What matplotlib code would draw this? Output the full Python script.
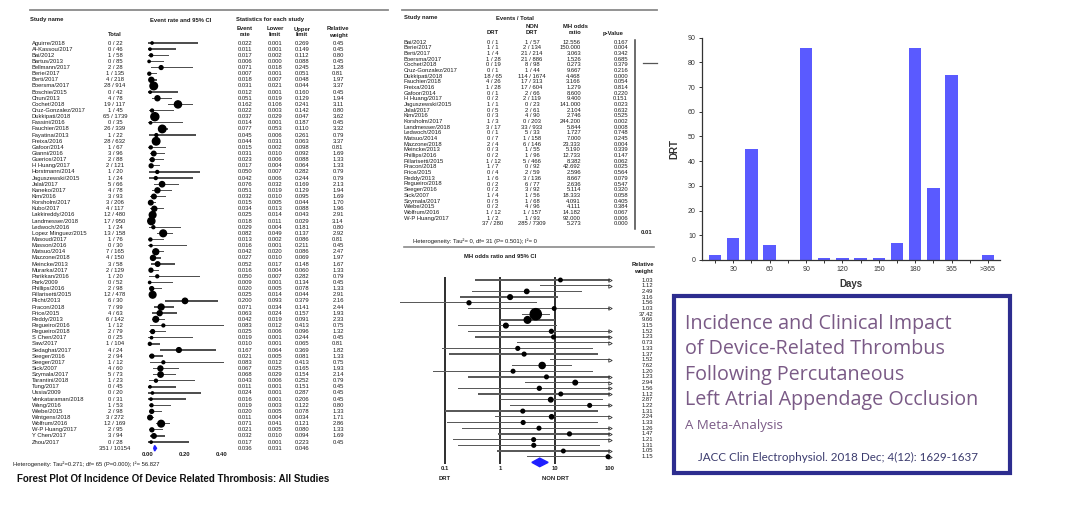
import matplotlib
matplotlib.use('Agg')
import matplotlib.pyplot as plt
import matplotlib.transforms as mtransforms
import matplotlib.patches as patches
import numpy as np

plt.rcParams['font.family'] = ['Liberation Sans', 'DejaVu Sans']

# ---- bar chart: DRT by days ----
day_pos = list(range(16))
day_labels = ['', '30', '', '60', '', '90', '', '120', '', '150', '', '180', '', '365', '', '>365']
drt_counts = [2, 9, 45, 6, 0, 86, 1, 1, 1, 1, 7, 86, 29, 75, 0, 2]

# ---- left forest plot: incidence of DRT, all studies ----
inc_names = ['Aguirre/2018', 'Al-Kassou/2017', 'Bai/2012', 'Bartus/2013', 'Bellmann/2017',
             'Berie/2017', 'Berti/2017', 'Boersma/2017', 'Boschie/2015', 'Chun/2013',
             'Cochet/2018', 'Cruz-Gonzalez/2017', 'Dukkipati/2018', 'Fassini/2016',
             'Fauchier/2018', 'Fayatina/2013', 'Freixa/2016', 'Gafoor/2014', 'Gianni/2016',
             'Guerios/2017', 'H Huang/2017', 'Horstmann/2014', 'Jaguszewski/2015', 'Jalal/2017',
             'Kaneko/2017', 'Kim/2016', 'Korsholm/2017', 'Kubo/2017', 'Lakkireddy/2016',
             'Landmesser/2018', 'Ledwoch/2016', 'Lopez Minguez/2015', 'Masoud/2017',
             'Masson/2016', 'Matsuo/2014', 'Mazzone/2018', 'Meincke/2013', 'Murarka/2017',
             'Parikkan/2016', 'Park/2009', 'Phillips/2016', 'Pillarisetti/2015', 'Plicht/2013',
             'Pracon/2018', 'Price/2015', 'Reddy/2013', 'Regueiro/2016', 'Regueiro/2018',
             'S Chen/2017', 'Saw/2017', 'Sedaghat/2017', 'Seeger/2016', 'Seeger/2017',
             'Sick/2007', 'Szymala/2017', 'Tarantini/2018', 'Tung/2017', 'Ussia/2009',
             'Venkataraman/2018', 'Wang/2016', 'Wiebe/2015', 'Wintgens/2018', 'Wolfrum/2016',
             'W-P Huang/2017', 'Y Chen/2017', 'Zhou/2017']
inc_totals = ['0 / 22', '0 / 46', '1 / 58', '0 / 85', '2 / 28', '1 / 135', '4 / 218', '28 / 914',
              '0 / 42', '4 / 78', '19 / 117', '1 / 45', '65 / 1739', '0 / 35', '26 / 339', '1 / 22',
              '28 / 632', '1 / 67', '3 / 96', '2 / 88', '2 / 121', '1 / 20', '1 / 24', '5 / 66',
              '4 / 78', '3 / 93', '3 / 206', '4 / 117', '12 / 480', '17 / 950', '1 / 24',
              '13 / 158', '1 / 76', '0 / 30', '7 / 165', '4 / 150', '3 / 58', '2 / 129', '1 / 20',
              '0 / 52', '2 / 98', '12 / 478', '6 / 30', '7 / 99', '4 / 63', '6 / 142', '1 / 12',
              '2 / 79', '0 / 25', '1 / 104', '4 / 24', '2 / 94', '1 / 12', '4 / 60', '5 / 73',
              '1 / 23', '0 / 45', '0 / 20', '0 / 31', '1 / 53', '2 / 98', '3 / 272', '12 / 169',
              '2 / 95', '3 / 94', '0 / 28']
inc_rate = [0.022, 0.011, 0.017, 0.006, 0.071, 0.007, 0.018, 0.031, 0.012, 0.051, 0.162, 0.022,
            0.037, 0.014, 0.077, 0.045, 0.044, 0.015, 0.031, 0.023, 0.017, 0.050, 0.042, 0.076,
            0.051, 0.032, 0.015, 0.034, 0.025, 0.018, 0.029, 0.082, 0.013, 0.016, 0.042, 0.027,
            0.052, 0.016, 0.050, 0.009, 0.020, 0.025, 0.200, 0.071, 0.063, 0.042, 0.083, 0.025,
            0.019, 0.010, 0.167, 0.021, 0.083, 0.067, 0.068, 0.043, 0.011, 0.024, 0.016, 0.019,
            0.020, 0.011, 0.071, 0.021, 0.032, 0.017]
inc_lower = [0.001, 0.001, 0.002, 0.000, 0.018, 0.001, 0.007, 0.021, 0.001, 0.019, 0.106, 0.003,
             0.029, 0.001, 0.053, 0.006, 0.031, 0.002, 0.010, 0.006, 0.004, 0.007, 0.006, 0.032,
             0.019, 0.010, 0.005, 0.013, 0.014, 0.011, 0.004, 0.049, 0.002, 0.001, 0.020, 0.010,
             0.017, 0.004, 0.007, 0.001, 0.005, 0.014, 0.093, 0.034, 0.024, 0.019, 0.012, 0.006,
             0.001, 0.001, 0.064, 0.005, 0.012, 0.025, 0.029, 0.006, 0.001, 0.001, 0.001, 0.003,
             0.005, 0.004, 0.041, 0.005, 0.010, 0.001]
inc_upper = [0.269, 0.149, 0.112, 0.088, 0.245, 0.051, 0.048, 0.044, 0.160, 0.129, 0.241, 0.142,
             0.047, 0.187, 0.110, 0.261, 0.063, 0.098, 0.092, 0.088, 0.064, 0.282, 0.244, 0.169,
             0.129, 0.095, 0.044, 0.088, 0.043, 0.029, 0.181, 0.137, 0.086, 0.211, 0.086, 0.069,
             0.148, 0.060, 0.282, 0.134, 0.078, 0.044, 0.379, 0.141, 0.157, 0.091, 0.413, 0.096,
             0.244, 0.065, 0.369, 0.081, 0.413, 0.165, 0.154, 0.252, 0.151, 0.287, 0.206, 0.122,
             0.078, 0.034, 0.121, 0.080, 0.094, 0.223]
inc_weight = [0.45, 0.45, 0.80, 0.45, 1.28, 0.81, 1.97, 3.37, 0.45, 1.94, 3.11, 0.80, 3.62, 0.45,
              3.32, 0.79, 3.37, 0.81, 1.69, 1.33, 1.33, 0.79, 0.79, 2.13, 1.94, 1.69, 1.70, 1.96,
              2.91, 3.14, 0.80, 2.92, 0.81, 0.45, 2.47, 1.97, 1.67, 1.33, 0.79, 0.45, 1.33, 2.91,
              2.16, 2.44, 1.93, 2.33, 0.75, 1.32, 0.45, 0.81, 1.82, 1.33, 0.75, 1.93, 2.14, 0.79,
              0.45, 0.45, 0.45, 0.80, 1.33, 1.71, 2.86, 1.33, 1.69, 0.45]
inc_pooled = [0.036, 0.031, 0.046]

# ---- middle: DRT vs non-DRT odds ratios ----
mh_names = ['Bai/2012', 'Berie/2017', 'Berti/2017', 'Boersma/2017', 'Cochet/2018',
            'Cruz-Gonzalez/2017', 'Dukkipati/2018', 'Fauchier/2018', 'Freixa/2016', 'Gafoor/2014',
            'H Huang/2017', 'Jaguszewski/2015', 'Jalal/2017', 'Kim/2016', 'Korsholm/2017',
            'Landmesser/2018', 'Ledwoch/2016', 'Matsuo/2014', 'Mazzone/2018', 'Meincke/2013',
            'Phillips/2016', 'Pillarisetti/2015', 'Pracon/2018', 'Price/2015', 'Reddy/2013',
            'Regueiro/2018', 'Seeger/2016', 'Sick/2007', 'Szymala/2017', 'Wiebe/2015',
            'Wolfrum/2016', 'W-P Huang/2017']
mh_drt = ['0 / 1', '1 / 1', '1 / 4', '1 / 28', '0 / 19', '0 / 1', '18 / 65', '4 / 26', '1 / 28',
          '0 / 1', '0 / 2', '1 / 1', '0 / 5', '0 / 3', '1 / 3', '3 / 17', '0 / 1', '0 / 7', '2 / 4',
          '0 / 3', '0 / 2', '1 / 12', '1 / 7', '0 / 4', '1 / 6', '0 / 2', '0 / 2', '1 / 4', '0 / 5',
          '0 / 2', '1 / 12', '1 / 2']
mh_nondrt = ['1 / 57', '2 / 134', '21 / 214', '21 / 886', '8 / 98', '1 / 44', '114 / 1674',
             '17 / 313', '17 / 604', '2 / 66', '2 / 119', '0 / 23', '2 / 61', '4 / 90', '0 / 203',
             '33 / 933', '5 / 33', '1 / 158', '6 / 146', '1 / 55', '1 / 96', '5 / 466', '0 / 92',
             '2 / 59', '3 / 136', '6 / 77', '3 / 92', '1 / 56', '1 / 68', '4 / 96', '1 / 157',
             '1 / 93']
mh_or = [12.556, 150.000, 3.063, 1.526, 0.273, 9.667, 4.468, 3.166, 1.279, 8.600, 9.400, 141.000,
         2.104, 2.746, 244.200, 5.844, 1.727, 7.000, 23.333, 5.190, 12.733, 8.382, 42.692, 2.596,
         8.667, 2.636, 5.114, 18.333, 4.091, 4.111, 14.182, 92.000]
mh_p = [0.167, 0.004, 0.342, 0.685, 0.379, 0.216, 0.000, 0.054, 0.814, 0.220, 0.151, 0.023, 0.632,
        0.525, 0.002, 0.008, 0.748, 0.245, 0.004, 0.339, 0.147, 0.062, 0.025, 0.564, 0.079, 0.547,
        0.320, 0.058, 0.405, 0.384, 0.067, 0.006]
mh_lower = [0.35, 5.3, 0.31, 0.19, 0.015, 0.26, 2.5, 1.0, 0.17, 0.26, 0.35, 2.0, 0.09, 0.12, 8.0,
            1.65, 0.06, 0.26, 2.85, 0.17, 0.4, 1.0, 1.5, 0.1, 0.8, 0.11, 0.2, 0.93, 0.14, 0.17,
            0.9, 3.1]
mh_upper = [500, 500, 31, 11.3, 4.7, 400, 8.1, 10.2, 10.9, 300, 300, 9000, 49, 60, 7000, 20, 49,
            190, 190, 160, 400, 74, 1200, 60, 110, 60, 130, 360, 120, 65, 220, 2700]
mh_weight = [1.03, 1.12, 2.49, 3.16, 1.56, 1.03, 37.42, 9.66, 3.15, 1.52, 1.23, 0.73, 1.33, 1.37,
             1.52, 7.62, 1.20, 1.23, 2.94, 1.56, 1.12, 2.87, 1.22, 1.31, 2.24, 1.33, 1.26, 1.47,
             1.21, 1.31, 1.05, 1.15]
mh_pooled = [5.273, 3.8, 7.5]

W, H = 1080, 511
fig = plt.figure(figsize=(W / 100, H / 100), dpi=100)
fig.patch.set_facecolor('white')


def box(x0, y0, x1, y1):
    return [x0 / W, 1 - y1 / H, (x1 - x0) / W, (y1 - y0) / H]


bg = fig.add_axes([0, 0, 1, 1])
bg.set_xlim(0, W)
bg.set_ylim(H, 0)
bg.axis('off')

txt = '#1c1c1c'
fs = 4.2

# ================= left panel =================
axL = fig.add_axes(box(100, 30, 260, 460))
axL.set_xlim((100 - 148) / 185, (260 - 148) / 185)
axL.set_ylim((460 - 43) / 6.14, (30 - 43) / 6.14)
axL.axis('off')
rowsL = np.arange(len(inc_names))
# CI whiskers as thin bars
axL.barh(rowsL, np.subtract(inc_upper, inc_lower), left=inc_lower, height=0.22,
         color='#505050', linewidth=0)
sizes = [((1.5 + 1.8 * w) * 0.72) ** 2 for w in inc_weight]
axL.scatter(inc_rate, rowsL, s=sizes, color='black', zorder=3)
ys = len(inc_names)
axL.fill([inc_pooled[1], inc_pooled[0], inc_pooled[2], inc_pooled[0]],
         [ys, ys - 0.45, ys, ys + 0.45], color='#2020ff', zorder=3)
trL = mtransforms.blended_transform_factory(bg.transData, axL.transData)
for i, name in enumerate(inc_names):
    bg.text(32, i, name, transform=trL, fontsize=fs, color=txt, va='center')
    bg.text(115, i, inc_totals[i], transform=trL, fontsize=fs, color=txt, va='center', ha='center')
    bg.text(245, i, '%.3f' % inc_rate[i], transform=trL, fontsize=fs, color=txt, va='center', ha='center')
    bg.text(275, i, '%.3f' % inc_lower[i], transform=trL, fontsize=fs, color=txt, va='center', ha='center')
    bg.text(302, i, '%.3f' % inc_upper[i], transform=trL, fontsize=fs, color=txt, va='center', ha='center')
    bg.text(338, i, '%.2f' % inc_weight[i], transform=trL, fontsize=fs, color=txt, va='center', ha='center')
bg.text(115, ys, '351 / 10154', transform=trL, fontsize=fs, color=txt, va='center', ha='center')
for xp, v in zip([245, 275, 302], inc_pooled):
    bg.text(xp, ys, '%.3f' % v, transform=trL, fontsize=fs, color=txt, va='center', ha='center')
trLx = mtransforms.blended_transform_factory(axL.transData, bg.transData)
for v in [0.0, 0.2, 0.4]:
    bg.text(v, 455, '%.2f' % v, transform=trLx, fontsize=fs, fontweight='bold', color=txt,
            ha='center', va='center')

bg.plot([30, 388], [10, 10], color='#8a8a8a', lw=1.3)
bg.text(30, 20, 'Study name', fontsize=fs, fontweight='bold', color=txt, va='center')
bg.text(150, 20, 'Event rate and 95% CI', fontsize=fs, fontweight='bold', color=txt, va='center')
bg.text(236, 20, 'Statistics for each study', fontsize=fs, fontweight='bold', color=txt, va='center')
bg.text(115, 35, 'Total', fontsize=fs, fontweight='bold', color=txt, va='center', ha='center')
for xp, a, b in [(245, 'Event', 'rate'), (275, 'Lower', 'limit'), (302, 'Upper', 'limit'),
                 (338, 'Relative', 'weight')]:
    bg.text(xp, 29, a, fontsize=fs, fontweight='bold', color=txt, va='center', ha='center')
    bg.text(xp, 35, b, fontsize=fs, fontweight='bold', color=txt, va='center', ha='center')
bg.text(13, 464, 'Heterogeneity: Tau\u00b2=0.271; df= 65 (P=0.000); I\u00b2= 56.827',
        fontsize=fs, color=txt, va='center')
bg.text(17, 479, 'Forest Plot Of Incidence Of Device Related Thrombosis: All Studies',
        fontsize=7, fontweight='bold', color='#111111', va='center')

# ================= middle panel: table =================
bg.plot([402, 657], [10, 10], color='#8a8a8a', lw=1.3)
bg.text(404, 18, 'Study name', fontsize=fs, fontweight='bold', color=txt, va='center')
bg.text(515, 18, 'Events / Total', fontsize=fs, fontweight='bold', color=txt, va='center', ha='center')
bg.text(493, 33, 'DRT', fontsize=fs, fontweight='bold', color=txt, va='center', ha='center')
bg.text(532, 27, 'NON', fontsize=fs, fontweight='bold', color=txt, va='center', ha='center')
bg.text(532, 33, 'DRT', fontsize=fs, fontweight='bold', color=txt, va='center', ha='center')
bg.text(575, 27, 'MH odds', fontsize=fs, fontweight='bold', color=txt, va='center', ha='center')
bg.text(575, 33, 'ratio', fontsize=fs, fontweight='bold', color=txt, va='center', ha='center')
bg.text(613, 33, 'p-Value', fontsize=fs, fontweight='bold', color=txt, va='center', ha='center')
for i, name in enumerate(mh_names):
    y = 42 + 5.68 * i
    bg.text(404, y, name, fontsize=fs, color=txt, va='center')
    bg.text(493, y, mh_drt[i], fontsize=fs, color=txt, va='center', ha='center')
    bg.text(532, y, mh_nondrt[i], fontsize=fs, color=txt, va='center', ha='center')
    bg.text(581, y, '%.3f' % mh_or[i], fontsize=fs, color=txt, va='center', ha='right')
    bg.text(628, y, '%.3f' % mh_p[i], fontsize=fs, color=txt, va='center', ha='right')
y = 42 + 5.68 * len(mh_names)
bg.text(493, y, '37 / 280', fontsize=fs, color=txt, va='center', ha='center')
bg.text(532, y, '285 / 7309', fontsize=fs, color=txt, va='center', ha='center')
bg.text(581, y, '%.3f' % mh_pooled[0], fontsize=fs, color=txt, va='center', ha='right')
bg.text(628, y, '0.000', fontsize=fs, color=txt, va='center', ha='right')
bg.plot([635, 635], [40, 229], color='#444444', lw=1.1)
bg.plot([643, 657], [63, 63], color='#555555', lw=0.9)
bg.text(641, 233, '0.01', fontsize=fs, fontweight='bold', color=txt, va='center')
bg.text(413, 241, 'Heterogeneity: Tau\u00b2= 0, df= 31 (P= 0.501); I\u00b2= 0', fontsize=fs,
        color=txt, va='center')
bg.plot([404, 654], [247, 247], color='#8a8a8a', lw=1.2)
bg.text(500, 257, 'MH odds ratio and 95% CI', fontsize=fs, fontweight='bold', color=txt,
        va='center', ha='center')
bg.text(643, 265, 'Relative', fontsize=fs, fontweight='bold', color=txt, va='center', ha='center')
bg.text(643, 271, 'weight', fontsize=fs, fontweight='bold', color=txt, va='center', ha='center')

# ================= middle panel: forest =================
axF = fig.add_axes(box(390, 272, 615, 470))
axF.set_xscale('log')
axF.set_xlim(0.01, 10 ** ((615 - 500) / 55))
axF.set_ylim((470 - 280) / 5.7, (272 - 280) / 5.7)
axF.axis('off')
rowsF = np.arange(len(mh_names))
for v in [0.1, 1, 10]:
    axF.axvspan(v / 1.022, v * 1.022, ymin=0.0325, ymax=0.977, color='#333333', linewidth=0)
hi = np.minimum(mh_upper, 100)
axF.barh(rowsF, hi - np.array(mh_lower), left=mh_lower, height=0.24, color='#5a5a5a', linewidth=0)
over = [i for i in rowsF if mh_upper[i] > 100]
axF.plot([100] * len(over), over, ls='none', marker='>', ms=2.5, mfc='none', mec='#333333', mew=0.6)
shown = [i for i in rowsF if mh_or[i] <= 100]
axF.scatter([mh_or[i] for i in shown], shown,
            s=[((2 + 1.5 * np.sqrt(mh_weight[i])) * 0.72) ** 2 for i in shown],
            color='black', zorder=3)
yd = len(mh_names)
axF.fill([mh_pooled[1], mh_pooled[0], mh_pooled[2], mh_pooled[0]],
         [yd, yd - 0.75, yd, yd + 0.75], color='#1f1fff', zorder=3)
trF = mtransforms.blended_transform_factory(bg.transData, axF.transData)
for i, w in enumerate(mh_weight):
    bg.text(653, i, '%.2f' % w, transform=trF, fontsize=fs, color=txt, va='center', ha='right')
trFx = mtransforms.blended_transform_factory(axF.transData, bg.transData)
for v, lab in [(0.1, '0.1'), (1, '1'), (10, '10'), (100, '100')]:
    bg.text(v, 468, lab, transform=trFx, fontsize=fs, fontweight='bold', color=txt,
            ha='center', va='center')
bg.text(0.1, 479, 'DRT', transform=trFx, fontsize=fs, fontweight='bold', color=txt, ha='center', va='center')
bg.text(10, 479, 'NON DRT', transform=trFx, fontsize=fs, fontweight='bold', color=txt, ha='center', va='center')

# ================= right: bar chart =================
axB = fig.add_axes(box(702, 37.7, 1000, 260))
axB.bar(day_pos, drt_counts, width=0.68, color='#5a5aff')
axB.set_xlim(-0.72, 15.66)
axB.set_ylim(0, 90)
axB.set_yticks(range(0, 91, 10))
axB.set_xticks(day_pos)
axB.set_xticklabels(day_labels)
axB.tick_params(labelsize=5, colors='#333333', length=2.5, width=0.7, pad=2)
for s in ['top', 'right']:
    axB.spines[s].set_visible(False)
for s in ['left', 'bottom']:
    axB.spines[s].set_color('#333333')
    axB.spines[s].set_linewidth(0.9)
axB.set_xlabel('Days', fontsize=7, fontweight='bold', color='#333333', labelpad=4)
axB.set_ylabel('DRT', fontsize=7, fontweight='bold', color='#333333', labelpad=6)

# ================= title box =================
bg.add_patch(patches.Rectangle((674, 296), 336, 177, fill=False, ec='#2d2d8f', lw=3))
title_col = '#7a5a86'
for k, line in enumerate(['Incidence and Clinical Impact', 'of Device-Related Thrombus',
                          'Following Percutaneous', 'Left Atrial Appendage Occlusion']):
    bg.text(685, 324 + 25.3 * k, line, fontsize=14.2, color=title_col, va='center',
            family=['Open Sans', 'DejaVu Sans'])
bg.text(685, 426, 'A Meta-Analysis', fontsize=9.5, color=title_col, va='center',
        family=['Open Sans', 'DejaVu Sans'])
bg.text(698, 457, 'JACC Clin Electrophysiol. 2018 Dec; 4(12): 1629-1637', fontsize=8.4,
        color='#3b3b6e', va='center', family=['Lato', 'DejaVu Sans'])

fig.savefig('out.png', dpi=100, facecolor='white')
